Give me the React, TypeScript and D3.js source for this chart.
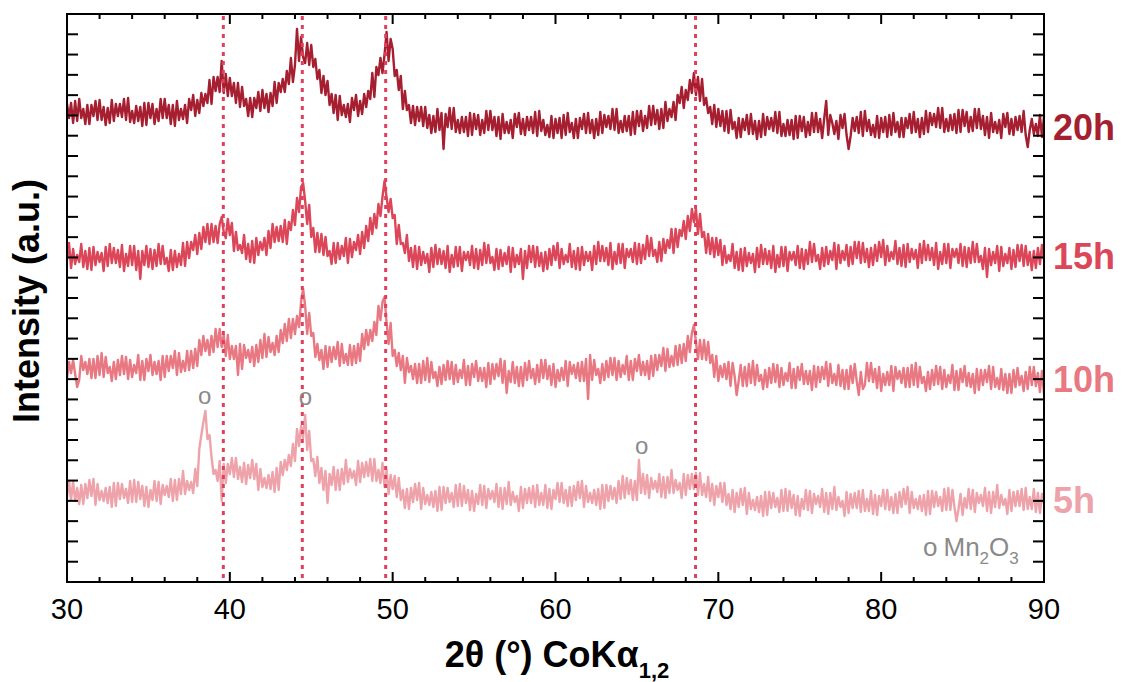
import React from 'react';
import * as d3 from 'd3';

// 2θ scan: start and step (degrees)
const TWO_THETA_START = 30;
const TWO_THETA_STEP = 0.125;
const TWO_THETA_DOMAIN = [30, 90];

const SERIES_NAMES = ['20h', '15h', '10h', '5h'];
const SERIES_COLORS = ['#A51F30', '#DC4659', '#E87882', '#EEA3AA'];
// vertical stacking offsets (a.u.)
const SERIES_OFFSETS = [455, 325, 205, 85];

const I_20H = [
  23, 9, 24, 4, 26, 6, 28, 9, 18, 3, 22, 3, 22, 11, 26, 7, 27, 7, 20, 2, 19, 4, 27, 6, 23, 11, 23, 10, 28, 7, 29, 5, 16, 4, 21, 6, 20, 1, 24, 2,
  24, 9, 23, 3, 18, 6, 28, 9, 28, 9, 22, 3, 22, 1, 26, 7, 18, 8, 22, 4, 28, 17, 32, 11, 27, 14, 34, 21, 33, 24, 47, 23, 50, 36, 50, 35, 66, 34, 53, 31,
  49, 31, 44, 24, 44, 20, 40, 21, 28, 11, 29, 10, 29, 19, 35, 16, 37, 19, 33, 15, 34, 21, 45, 24, 44, 35, 48, 35, 56, 43, 69, 45, 62, 98, 66, 90, 70, 64, 84, 62,
  82, 60, 68, 48, 57, 34, 51, 32, 46, 22, 33, 14, 32, 7, 31, 12, 22, 10, 23, 5, 29, 17, 32, 11, 26, 13, 33, 20, 36, 28, 54, 30, 60, 52, 69, 54, 72, 95, 66, 88,
  78, 51, 57, 37, 51, 18, 36, 17, 22, 4, 21, 2, 20, 6, 20, 1, 20, -1, 12, -6, 11, -5, 18, -3, 14, -22, 13, 0, 19, -2, 19, -5, 7, -6, 10, -5, 10, -9, 14, -8,
  13, -2, 12, -8, 7, -6, 16, -3, 16, -3, 10, -9, 10, -12, 13, -6, 5, -6, 7, -11, 13, 0, 14, -7, 8, -8, 10, -3, 10, -6, 15, -9, 16, -4, 7, -8, 2, -10, 11, -11,
  8, -6, 9, -11, 12, -8, 14, -5, 4, -11, 8, -11, 9, -2, 13, -6, 14, -6, 7, -11, 8, -8, 15, -6, 12, 0, 11, -2, 18, -3, 18, -6, 6, -5, 11, -4, 11, -8, 15, -7,
  16, 1, 16, -4, 11, -1, 21, 2, 21, 3, 17, -2, 18, -1, 25, 6, 18, 10, 25, 7, 32, 24, 40, 19, 37, 27, 47, 34, 54, 32, 50, 26, 48, 22, 29, 14, 20, 3, 22, 0,
  18, 1, 16, -4, 16, -6, 17, -2, 5, -11, 9, -10, 8, -3, 12, -7, 13, -7, 6, -12, 6, -10, 13, -8, 10, -2, 9, -4, 15, -6, 15, -9, 3, -9, 7, -8, 7, -12, 11, -11,
  11, -4, 10, -10, 5, -8, 14, -5, 14, -5, 8, -11, 8, 26, -8, 12, 4, -7, 6, -12, 12, -1, 13, -8, -22, -9, 9, -4, 10, -6, 15, -9, 16, -4, 7, -8, 2, -10, 11, -11,
  9, -5, 10, -10, 12, -8, 14, -5, 5, -10, 9, -10, 9, -1, 13, -6, 15, -5, 8, -10, 9, -7, 16, -5, 14, 2, 13, 0, 19, -1, 19, -5, 8, -4, 12, -3, 13, -6, 17, -5,
  17, 1, 15, -5, 10, -4, 18, -1, 18, -2, 11, -8, 10, -11, 14, -5, 5, -6, 7, -11, 13, 0, 14, -7, 8, -8, 10, -3, 11, -5, 16, -8, -20, -3, 8, -7, 3, -9, 12, -10, 10,
];

const I_15H = [
  -3, 14, -11, 8, -7, 2, -5, 13, -10, 6, -12, 9, -13, 10, -8, 5, -5, 4, -14, 10, -9, 13, -6, 9, -6, 7, -10, 12, -14, 3, -9, 11, -8, 11, -13, 6, -22, 6, -8, 11,
  -10, 8, -12, 7, -9, 13, -7, 11, -7, -1, -14, 7, -13, 6, -10, 3, -8, 14, -9, 15, -1, 15, 7, 22, 3, 24, 8, 30, 15, 33, 13, 33, 15, 31, 14, 33, 40, 25, 19, 38,
  22, 34, 6, 25, 7, 12, 4, 22, -2, 13, -5, 16, -6, 19, 2, 15, 7, 19, 2, 26, 9, 33, 15, 30, 16, 31, 15, 37, 13, 35, 27, 47, 32, 59, 45, 70, 74, 56, 33, 52,
  20, 29, 5, 24, 5, 23, 2, 20, 1, 6, -7, 14, -6, 14, -2, 11, 1, 19, -6, 18, 0, 15, 7, 22, 3, 25, 9, 31, 16, 39, 23, 43, 29, 53, 41, 60, 76, 60, 45, 58,
  39, 42, 13, 32, 13, 14, 4, 22, -4, 9, -10, 11, -12, 10, -8, 5, -6, 3, -15, 9, -10, 12, -7, 8, -7, 6, -11, 11, -15, 2, -10, 10, -9, 10, -14, 5, -3, 5, -8, 11,
  -11, 8, -12, 7, -8, 14, -6, 12, -6, 0, -13, 8, -12, 7, -9, 4, -7, 10, -15, 9, -10, 2, -7, 8, -22, 6, -11, 11, -5, 11, -10, 10, -9, 4, -14, 5, -12, 8, -8, 11,
  -3, 14, -11, 8, -7, 2, -5, 13, -10, 6, -12, 9, -13, 10, -8, 5, -4, 5, -13, 11, -7, 15, -4, 11, -4, 9, -8, 14, -12, 5, -7, 13, -6, 13, -11, 8, 0, 8, -5, 14,
  -7, 13, -6, 12, -2, 21, 1, 19, 1, 7, -5, 15, -4, 18, 4, 17, 9, 28, 4, 28, 10, 27, 21, 36, 18, 41, 26, 48, 35, 48, 23, 43, 20, 25, 4, 23, 3, 19, 0, 19,
  2, 17, -8, 11, -6, 2, -4, 13, -11, 5, -13, 8, -14, 9, -9, 4, -6, 3, -15, 9, -10, 12, -7, 8, -7, 6, -11, 11, -15, 2, -10, 10, -9, 10, -14, 5, -3, 5, -8, 11,
  -11, 8, -12, 7, -7, 15, -5, 13, -4, 2, -12, 9, -9, 10, -7, 6, -3, 14, -12, 12, -6, 6, -3, 12, -9, 10, -7, 15, -1, 15, -6, 14, -5, 8, -10, 9, -8, 12, -4, 15,
  0, 17, -8, 11, -4, 5, -2, 16, -7, 9, -9, 12, -10, 13, -5, 8, -2, 7, -11, 13, -6, 16, -3, 12, -3, 9, -8, 14, -12, 5, -7, 13, -6, 13, -11, 8, 0, 8, -6, 13,
  -9, 10, -10, 9, -6, 15, -5, 13, -5, 1, -12, 9, -20, 8, -8, 5, -6, 11, -14, 10, -9, 3, -6, 9, -12, 7, -10, 12, -4, 12, -9, 11, -8, 5, -13, 6, -11, 9, -7, 12, -3,
];

const I_10H = [
  -1, 15, 4, 17, 3, -10, -3, 21, 7, 15, 3, 18, -1, 18, -1, 21, 2, 24, 0, 20, 4, 10, -4, 15, -2, 17, 2, 21, 3, 20, -2, 17, 0, 12, 4, 22, -3, 16, -3, 18,
  6, 22, 2, 15, 3, 16, -3, 21, 0, 21, 6, 21, 9, 26, 2, 24, 5, 16, 6, 26, 7, 26, 9, 28, 11, 37, 22, 41, 26, 37, 22, 41, 25, 48, 30, 48, 30, 42, 21, 42,
  18, 31, 18, 31, 2, 33, 8, 32, 19, 27, 15, 30, 11, 32, 15, 37, 19, 43, 20, 40, 25, 34, 22, 41, 25, 47, 34, 53, 36, 58, 39, 58, 43, 61, 50, 75, 88, 71, 43, 64,
  41, 44, 20, 33, 17, 27, 8, 31, 10, 30, 15, 30, 18, 35, 11, 33, 14, 23, 12, 32, 12, 31, 14, 33, 16, 43, 28, 47, 32, 47, 36, 55, 42, 71, 57, 75, 80, 55, 33, 54,
  21, 27, 11, 24, 7, 21, -6, 19, 5, 11, -2, 13, -6, 13, -6, 16, -3, 19, -5, 15, -1, 5, -9, 10, -7, 12, -3, 16, -2, 15, -7, 12, -5, 7, -1, 17, -8, 11, -8, 13,
  0, 16, -4, 9, -4, 9, -10, 14, -7, 13, -2, 13, 1, 18, -6, 16, -16, 6, -5, 15, -6, 10, -9, 10, -9, 14, -3, 16, -1, 8, -7, 12, -5, 17, -1, 17, -2, 11, -8, 13,
  -10, 7, -4, 9, -3, 16, -9, 15, 3, 12, -1, 14, -4, 15, -4, 18, -22, 22, -3, 17, 2, 8, -6, 13, -3, 16, 0, 19, 2, 19, -3, 16, 0, 12, 3, 21, -3, 16, -3, 18,
  6, 22, 2, 15, 2, 16, -2, 21, 1, 22, 7, 22, 11, 29, 6, 28, 10, 21, 11, 31, 12, 32, 14, 33, 16, 41, 25, 44, 52, 35, 18, 37, 18, 37, 17, 35, 14, 22, 0, 21,
  -4, 11, 0, 13, -2, 15, -9, 14, 1, -18, -4, 12, -9, 10, -9, 13, -6, 16, -8, 12, -4, 2, -12, 7, -10, 9, -6, 13, -5, 12, -10, 9, -8, 4, -4, 14, -11, 8, -11, 10,
  -3, 13, -7, 6, -7, 6, -13, 11, -10, 10, -5, 10, -2, 15, -9, 13, -6, 3, -8, 12, -9, 7, -12, 7, -12, 11, -6, 13, -4, -18, 5, -12, -8, 14, -4, 14, -5, 8, -11, 10,
  -14, 3, -8, 5, -8, 11, -14, 10, -2, 6, -6, 9, -10, 9, -10, 12, -8, 14, -10, 10, -6, 0, -14, 5, -12, 7, -8, 11, -7, 10, -12, 7, -10, 2, -6, 12, -13, 6, -13, 8,
  -5, 11, -9, 4, -10, 3, -16, 8, -13, 7, -8, 7, -5, 11, -12, 10, -10, -1, -12, 8, -13, 3, -16, 3, -16, 7, -10, 9, -8, 1, -14, 5, -12, 10, -8, 10, -9, 4, -15, 6, -17,
];

const I_5H = [
  0, 16, -3, 16, -4, 9, -7, 12, -7, 13, -1, 17, 1, 18, -8, 13, -3, 6, -4, 9, -6, 10, -10, 14, -9, 14, -2, 13, -1, 8, -6, 16, -5, 17, -5, 15, -2, 11, -9, 10,
  -10, 7, -3, 16, -4, 15, -7, 12, 2, 11, 0, 18, -4, 17, -3, 18, 3, 26, 3, 16, 7, 15, 4, 28, 11, 48, 62, 75, 86, 58, 62, 40, 23, 27, 16, 36, -4, 33, 14, 33,
  23, 39, 20, 39, 18, 30, 15, 34, 13, 32, 19, 37, 18, 33, 7, 28, 10, 19, 9, 22, 8, 25, 5, 29, 7, 35, 22, 37, 27, 42, 31, 53, 36, 68, 51, 71, 59, 82, 47, 66,
  36, 38, 21, 40, 14, 29, 7, 26, -6, 23, 12, 30, 7, 27, 7, 28, 13, 37, 15, 28, 19, 26, 12, 36, 15, 34, 20, 35, 21, 38, 16, 38, 16, 27, 14, 34, 10, 27, 3, 22,
  8, 21, 0, 19, -3, 7, -11, 8, -12, 9, -5, 13, -3, 14, -12, 9, -7, 2, -8, 5, -10, 6, -14, 10, -13, 10, -6, 9, -5, 4, -10, 12, -9, 13, -9, 11, -6, 7, -13, 6,
  -14, 3, -7, 12, -8, 11, -11, 8, -2, 6, -5, 13, -10, 9, -12, 9, -7, 15, -8, 5, -5, 1, -14, 10, -11, 8, -6, 9, -6, 11, -10, 12, -8, 4, -8, 12, -11, 8, -12, 7,
  -2, 14, -5, 14, -6, 7, -9, 10, -9, 11, -3, 15, -1, 16, -10, 11, -5, 4, -6, 7, -8, 8, -12, 12, -11, 12, -4, 11, -2, 9, -6, 16, -2, 21, -1, 19, 3, 17, -3, 16,
  -3, 37, 4, 23, 3, 22, -1, 19, 8, 16, 5, 23, 0, 20, -1, 20, 4, 27, 4, 17, 7, 14, -1, 23, 2, 22, 8, 23, 8, 24, 2, 24, 2, 13, 0, 20, -4, 13, -8, 11,
  0, 14, -5, 14, -8, 3, -12, 7, -15, 4, -10, 8, -8, 9, -17, 4, -12, -3, -13, 0, -15, 1, -19, 5, -18, 5, -11, 4, -10, -1, -15, 7, -14, 8, -14, 6, -11, 2, -18, 1,
  -19, -2, -12, 7, -13, 6, -16, 3, -7, 1, -10, 8, -15, 4, -17, 4, -12, 10, -13, 0, -10, -4, -19, 5, -16, 3, -11, 4, -11, 6, -15, 7, -14, -2, -14, 6, -17, 2, -18, 1,
  -9, 7, -12, 7, -13, 0, -16, 3, -16, 5, -10, 8, -7, 10, -16, 5, -11, -2, -12, 1, -14, 2, -18, 6, -17, 6, -10, 5, -9, 0, -14, 8, -13, 9, -13, 7, -10, -24, -12, 3,
  -18, -1, -11, 8, -12, 7, -15, 4, -6, 2, -9, 9, -14, 5, -16, 5, -10, 12, -11, 2, -8, -2, -17, 7, -14, 5, -9, 6, -9, 8, -13, 9, -12, 0, -12, 8, -15, 4, -16, 3, -7,
];

const SERIES_VALUES = [I_20H, I_15H, I_10H, I_5H];

// reference phase reflections (dotted lines), 2θ
const PHASE_LINES = [39.6, 44.45, 49.57, 68.6];
// Mn2O3 marks
const MN2O3_THETA = [38.45, 44.65, 65.3];
const MN2O3_LEVEL = [184, 183, 134];

const X_MAJOR = d3.range(30, 91, 10);
const X_MINOR = d3.range(30, 91, 2);
const Y_MAX = 568;
const Y_TICK_COUNT = 28;

const W = 1122;
const H = 682;
const M = { left: 67, right: 1044, top: 14, bottom: 582 };
const FONT = "'Liberation Sans', Arial, Helvetica, sans-serif";

export default function App() {
  const x = d3.scaleLinear().domain(TWO_THETA_DOMAIN).range([M.left, M.right]);
  const y = d3.scaleLinear().domain([0, Y_MAX]).range([M.bottom, M.top]);
  const yTicks = d3.range(0, Y_TICK_COUNT + 1).map((k) => (k * Y_MAX) / Y_TICK_COUNT);

  const paths = SERIES_VALUES.map((vals, si) => {
    const pts = vals.map((v, i) => [TWO_THETA_START + i * TWO_THETA_STEP, v + SERIES_OFFSETS[si]] as [number, number]);
    const line = d3.line<[number, number]>().x((d) => x(d[0])).y((d) => y(d[1]));
    return line(pts) as string;
  });

  const labelBaselines = [140, 269, 392, 513];

  return (
    <svg width={W} height={H} style={{ position: 'absolute', left: 0, top: 0, background: '#fff' }} fontFamily={FONT}>
      <defs>
        <clipPath id="plotclip">
          <rect x={M.left} y={M.top} width={M.right - M.left} height={M.bottom - M.top} />
        </clipPath>
      </defs>
      <g clipPath="url(#plotclip)">
        {paths.map((d, i) => (
          <path key={SERIES_NAMES[i]} d={d} fill="none" stroke={SERIES_COLORS[i]} strokeWidth={2.4} strokeLinejoin="round" />
        ))}
      </g>
      {PHASE_LINES.map((t) => (
        <line key={t} x1={x(t)} x2={x(t)} y1={M.top + 2} y2={M.bottom} stroke="#E0405A" strokeWidth={3} strokeDasharray="4,5" />
      ))}
      {MN2O3_THETA.map((t, i) => (
        <text key={t} x={x(t)} y={y(MN2O3_LEVEL[i]) + 6} fontSize={24} fill="#8a8a8a" textAnchor="middle">o</text>
      ))}
      {/* frame */}
      <rect x={M.left} y={M.top} width={M.right - M.left} height={M.bottom - M.top} fill="none" stroke="#000" strokeWidth={2} />
      {/* x ticks */}
      {X_MINOR.map((t) => {
        const major = X_MAJOR.includes(t);
        const len = major ? 10 : 5;
        return (
          <g key={t}>
            <line x1={x(t)} x2={x(t)} y1={M.bottom} y2={M.bottom - len} stroke="#000" strokeWidth={2} />
            <line x1={x(t)} x2={x(t)} y1={M.top} y2={M.top + len} stroke="#000" strokeWidth={2} />
          </g>
        );
      })}
      {X_MAJOR.map((t) => (
        <text key={t} x={x(t)} y={619} fontSize={29} textAnchor="middle" fill="#000">{t}</text>
      ))}
      {/* y ticks */}
      {yTicks.map((v) => (
        <g key={v}>
          <line x1={M.left} x2={M.left + 11} y1={y(v)} y2={y(v)} stroke="#000" strokeWidth={2} />
          <line x1={M.right} x2={M.right - 11} y1={y(v)} y2={y(v)} stroke="#000" strokeWidth={2} />
        </g>
      ))}
      {/* series labels */}
      {SERIES_NAMES.map((n, i) => (
        <text key={n} x={1053} y={labelBaselines[i]} fontSize={36} fontWeight="bold" fill={SERIES_COLORS[i]}>{n}</text>
      ))}
      {/* legend */}
      <text x={923} y={556} fontSize={26} fill="#8a8a8a">
        o<tspan dx={6}>Mn</tspan>
        <tspan fontSize={17} dy={8}>2</tspan>
        <tspan dy={-8}>O</tspan>
        <tspan fontSize={17} dy={8}>3</tspan>
      </text>
      {/* axis titles */}
      <text x={557} y={667} fontSize={36} fontWeight="bold" textAnchor="middle" fill="#000">
        2θ (°) CoKα<tspan fontSize={22} dy={11}>1,2</tspan>
      </text>
      <text transform={`translate(39, ${(M.top + M.bottom) / 2 + 3}) rotate(-90)`} fontSize={36} fontWeight="bold" textAnchor="middle" fill="#000">
        Intensity (a.u.)
      </text>
    </svg>
  );
}
